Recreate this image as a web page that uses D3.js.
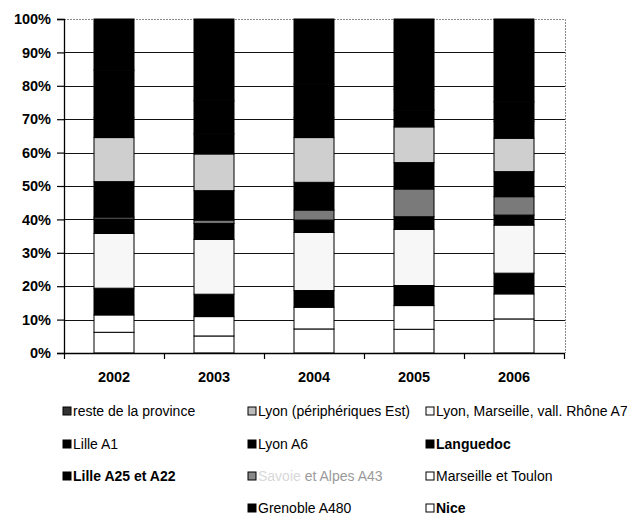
<!DOCTYPE html>
<html>
<head>
<meta charset="utf-8">
<script src="https://cdn.jsdelivr.net/npm/d3@7"></script>
<style>
html,body{margin:0;padding:0;background:#fff;}
svg{display:block;font-family:"Liberation Sans",Arial,sans-serif;}
</style>
</head>
<body>
<svg id="chart" width="627" height="518"></svg>
<script>
// ---- data (percent of total, bottom to top in stack order) ----
const years = ["2002", "2003", "2004", "2005", "2006"];
const nice        = [6.2, 5.1, 7.2, 7.1, 10.2];
const marseilleToulon = [5.2, 5.8, 6.5, 7.1, 7.5];
const languedoc   = [8.0, 6.7, 5.0, 6.0, 6.2];
const lyonA7      = [16.4, 16.4, 17.4, 16.8, 14.4];
const grenoble    = [4.3, 4.8, 3.7, 3.8, 3.0];
const alpesA43    = [0.6, 1.0, 3.0, 8.3, 5.5];
const lyonA6      = [10.6, 8.8, 8.3, 7.9, 7.5];
const lyonEst     = [13.2, 11.0, 13.4, 10.7, 10.0];
const lilleA25    = [6.0, 6.0, 6.0, 5.0, 5.0];
const lilleA1     = [14.2, 9.9, 10.0, 6.2, 5.9];
const reste       = [15.3, 24.5, 19.5, 21.1, 24.8];
const yTicks = [0, 10, 20, 30, 40, 50, 60, 70, 80, 90, 100];

const seriesNames = ["Nice", "Marseille et Toulon", "Languedoc", "Lyon, Marseille, vall. Rhône A7",
  "Grenoble A480", "Savoie et Alpes A43", "Lyon A6", "Lyon (périphériques Est)",
  "Lille A25 et A22", "Lille A1", "reste de la province"];
const seriesValues = [nice, marseilleToulon, languedoc, lyonA7, grenoble, alpesA43, lyonA6, lyonEst, lilleA25, lilleA1, reste];

// legend layout (row-major as in reference; null = empty cell)
const legendOrder = ["reste de la province", "Lyon (périphériques Est)", "Lyon, Marseille, vall. Rhône A7",
  "Lille A1", "Lyon A6", "Languedoc",
  "Lille A25 et A22", "Savoie et Alpes A43", "Marseille et Toulon",
  null, "Grenoble A480", "Nice"];

const fills = {
  "Nice": "#ffffff",
  "Marseille et Toulon": "#ffffff",
  "Languedoc": "#000000",
  "Lyon, Marseille, vall. Rhône A7": "#f7f7f7",
  "Grenoble A480": "#000000",
  "Savoie et Alpes A43": "#7a7a7a",
  "Lyon A6": "#000000",
  "Lyon (périphériques Est)": "#cfcfcf",
  "Lille A25 et A22": "#000000",
  "Lille A1": "#000000",
  "reste de la province": "#000000"
};
const legendIcon = Object.assign({}, fills, {"reste de la province": "#333", "Lyon (périphériques Est)": "#bbb", "Savoie et Alpes A43": "#888"});
const boldNames = new Set(["Languedoc", "Lille A25 et A22", "Nice"]);

// ---- build table ----
const table = years.map((y, i) => {
  const row = {year: y};
  seriesNames.forEach((n, k) => row[n] = seriesValues[k][i]);
  return row;
});

const svg = d3.select("#chart");
const m = {left: 64, right: 565, top: 19, bottom: 353};

const x = d3.scaleBand().domain(years).range([m.left, m.right - 1]).paddingInner(0.6).paddingOuter(0.3);
const y = d3.scaleLinear().domain([0, 100]).range([m.bottom, m.top]);

// gridlines
svg.append("g").selectAll("line").data(yTicks.filter(t => t > 0 && t < 100)).join("line")
  .attr("x1", m.left).attr("x2", m.right)
  .attr("y1", d => Math.round(y(d)) + 0.5).attr("y2", d => Math.round(y(d)) + 0.5)
  .attr("stroke", "#111").attr("stroke-width", 1.2);

// plot border top/right (dotted grey)
svg.append("path")
  .attr("d", `M${m.left},${m.top + 0.5}H${m.right + 0.5}V${m.bottom}`)
  .attr("fill", "none").attr("stroke", "#888").attr("stroke-width", 1).attr("stroke-dasharray", "2,1");

// stacked bars
const stack = d3.stack().keys(seriesNames);
const stacked = stack(table);
svg.append("g").selectAll("g").data(stacked).join("g")
  .attr("fill", d => fills[d.key])
  .selectAll("rect").data(d => d).join("rect")
  .attr("x", d => x(d.data.year))
  .attr("width", x.bandwidth())
  .attr("y", d => y(d[1]))
  .attr("height", d => Math.max(0, y(d[0]) - y(d[1])))
  .attr("stroke", "#000").attr("stroke-width", 1);

// y axis
const yAxis = d3.axisLeft(y).tickValues(yTicks).tickFormat(d => d + "%").tickSize(7).tickPadding(6);
const gy = svg.append("g").attr("transform", `translate(${m.left},0)`).call(yAxis);
gy.attr("font-family", null);
gy.select(".domain").attr("stroke", "#000").attr("stroke-width", 1.3);
gy.selectAll(".tick line").attr("stroke", "#000").attr("stroke-width", 1.2);
gy.selectAll("text").attr("font-size", 14.5).attr("font-weight", "bold").attr("fill", "#000");

// x axis
const xAxis = d3.axisBottom(x).tickSize(0).tickPadding(19);
const gx = svg.append("g").attr("transform", `translate(0,${m.bottom})`).call(xAxis);
gx.attr("font-family", null);
gx.select(".domain").attr("d", `M${m.left},0.5H${m.right}`).attr("stroke", "#000").attr("stroke-width", 1.3);
gx.selectAll("text").attr("font-size", 14.5).attr("font-weight", "bold").attr("fill", "#000");
// category boundary ticks
const edgeTicks = [m.left].concat(years.map(yr => x(yr) + x.bandwidth() + x.step() * x.paddingInner() / 2));
svg.append("g").selectAll("line").data(edgeTicks).join("line")
  .attr("x1", d => Math.round(d) + 0.5).attr("x2", d => Math.round(d) + 0.5)
  .attr("y1", m.bottom).attr("y2", m.bottom + 6)
  .attr("stroke", "#000").attr("stroke-width", 1.2);

// legend
const colX = [63, 248, 426];
const rowY = [411, 444, 476, 508];
const lg = svg.append("g");
legendOrder.forEach((name, i) => {
  if (!name) return;
  const cx = colX[i % 3], cy = rowY[Math.floor(i / 3)];
  lg.append("rect").attr("x", cx).attr("y", cy - 4).attr("width", 8).attr("height", 8)
    .attr("fill", legendIcon[name]).attr("stroke", "#000").attr("stroke-width", 1);
  const t = lg.append("text").attr("x", cx + 10).attr("y", cy).attr("dy", "0.35em")
    .attr("font-size", 14).attr("fill", "#000")
    .attr("font-weight", boldNames.has(name) ? "bold" : "normal");
  if (name === "Savoie et Alpes A43") {
    t.append("tspan").attr("fill", "#d8d8d8").text("Savoie ");
    t.append("tspan").attr("fill", "#9a9a9a").text("et Alpes A43");
  } else {
    t.text(name);
  }
});
</script>
</body>
</html>
